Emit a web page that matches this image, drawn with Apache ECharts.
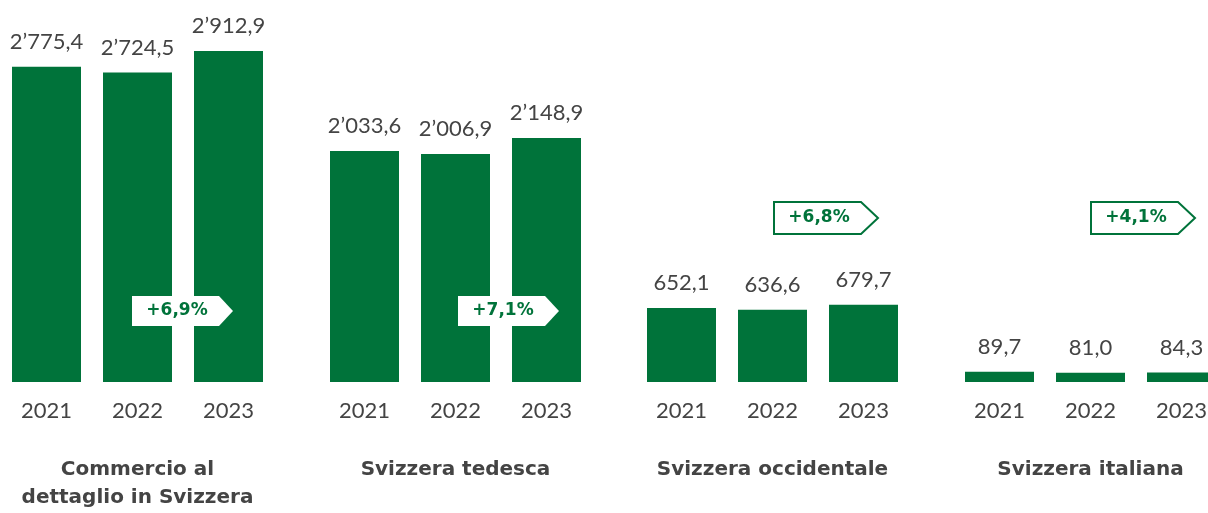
<!DOCTYPE html>
<html><head><meta charset="utf-8">
<script src="https://cdn.jsdelivr.net/npm/echarts@6/dist/echarts.min.js"></script>
<style>html,body{margin:0;padding:0;background:#fff}#c{width:1208px;height:513px}</style>
</head><body><div id="c"></div>
<script>
const years = ['2021', '2022', '2023'];
const regions = ['Commercio al\ndettaglio in Svizzera', 'Svizzera tedesca', 'Svizzera occidentale', 'Svizzera italiana'];
const commercioSvizzera = [2775.4, 2724.5, 2912.9];
const svizzeraTedesca = [2033.6, 2006.9, 2148.9];
const svizzeraOccidentale = [652.1, 636.6, 679.7];
const svizzeraItaliana = [89.7, 81.0, 84.3];
const changes = ['+6,9%', '+7,1%', '+6,8%', '+4,1%'];

const seriesValues = [commercioSvizzera, svizzeraTedesca, svizzeraOccidentale, svizzeraItaliana];
const GREEN = '#00733A';
const TEXT = '#444444';
const FONT = 'Lato, "Noto Sans", sans-serif';
const BOLD_FONT = '"DejaVu Sans", sans-serif';

function fmt(v) {
  const parts = v.toFixed(1).split('.');
  const intPart = parts[0].replace(/\B(?=(\d{3})+(?!\d))/g, '\u2019');
  return intPart + ',' + parts[1];
}

const groupLefts = [1, 319, 636, 954];
const bandWidth = 273;
const grids = [], xAxes = [], yAxes = [], series = [], titles = [];
seriesValues.forEach((vals, i) => {
  grids.push({ left: groupLefts[i], width: bandWidth, top: 41.2, bottom: 131, containLabel: false, outerBoundsMode: 'none' });
  xAxes.push({
    type: 'category', gridIndex: i, data: years,
    axisLine: { show: false }, axisTick: { show: false },
    axisLabel: { color: TEXT, fontSize: 22, fontFamily: FONT, margin: 18 }
  });
  yAxes.push({ type: 'value', gridIndex: i, min: 0, max: 3000, show: false, splitLine: { show: false } });
  series.push({
    type: 'bar', xAxisIndex: i, yAxisIndex: i, data: vals, barWidth: 69,
    itemStyle: { color: GREEN },
    label: { show: true, position: 'top', distance: 14, color: TEXT, fontSize: 22, fontFamily: FONT,
      formatter: p => fmt(p.value) },
    silent: true, animation: false
  });
  titles.push({
    text: regions[i], left: groupLefts[i] + bandWidth / 2, top: 456, textAlign: 'center', padding: 0,
    textStyle: { color: TEXT, fontSize: 20, fontWeight: 'bold', fontFamily: BOLD_FONT, lineHeight: 28 }
  });
});

const badgePos = [
  { x: 132, cy: 311, fill: true },
  { x: 458, cy: 311, fill: true },
  { x: 773, cy: 217, fill: false },
  { x: 1090, cy: 217, fill: false }
];
const graphics = badgePos.map((b, i) => {
  const h = b.fill ? 30 : 32, body = 87, tip = b.fill ? 101 : 104;
  return {
    type: 'group', left: b.x, top: b.cy - h / 2, z: 100,
    children: [
      { type: 'polygon', z: 100, shape: { points: [[0, 0], [body, 0], [tip, h / 2], [body, h], [0, h]] },
        style: { fill: '#fff', stroke: b.fill ? null : GREEN, lineWidth: b.fill ? 0 : 2 } },
      { type: 'text', z: 101, x: 45, y: h / 2,
        style: { text: changes[i], fill: GREEN, font: 'bold 17px ' + BOLD_FONT, textAlign: 'center', textVerticalAlign: 'middle' } }
    ]
  };
});

const chart = echarts.init(document.getElementById('c'), null, { renderer: 'canvas' });
chart.setOption({
  animation: false,
  backgroundColor: '#fff',
  title: titles,
  grid: grids, xAxis: xAxes, yAxis: yAxes, series: series,
  graphic: graphics
});
</script></body></html>
